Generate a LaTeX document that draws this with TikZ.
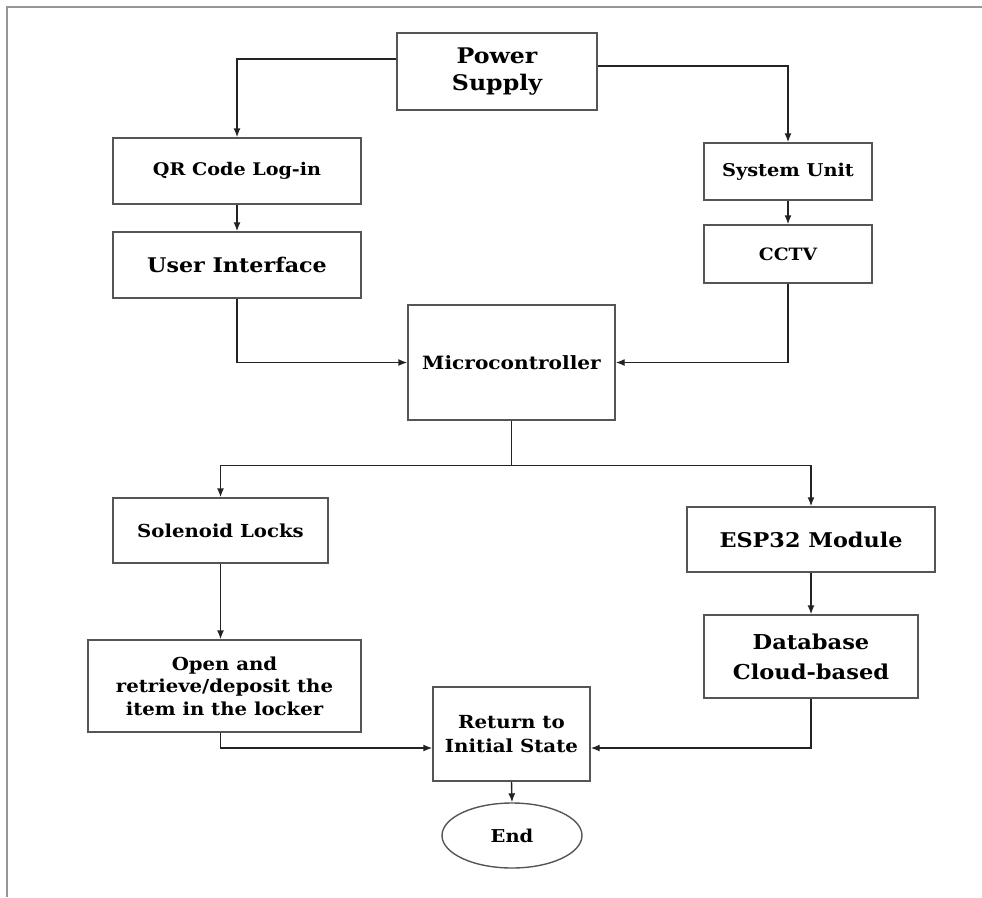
\documentclass[tikz,border=0pt]{standalone}
\usepackage{fontspec}
\setmainfont[FakeStretch=1.1]{DejaVu Serif}
\usetikzlibrary{arrows.meta,shapes.geometric,calc}
\definecolor{boxgray}{RGB}{85,85,85}
\definecolor{framegray}{RGB}{150,150,150}
\definecolor{linegray}{RGB}{35,35,35}
\newcommand\setfs[2]{\fontsize{#1}{#2}\selectfont}
\begin{document}
\begin{tikzpicture}[x=1pt,y=-1pt,
  box/.style={draw=boxgray, line width=1.4pt, align=center, inner sep=0pt},
  conn/.style={draw=linegray, line width=1.4pt, -{Latex[length=9pt,width=7pt]}},
  plain/.style={draw=linegray, line width=1.4pt}]
\useasboundingbox (0,0) rectangle (982,897);
\draw[framegray, line width=1.5pt] (982,7) -- (7,7) -- (7,897);

\node[box, minimum width=200pt, minimum height=77pt, font=\bfseries\setfs{21.5}{27}] (power) at (497,71.5) {Power\\Supply};
\node[box, minimum width=248pt, minimum height=66pt, font=\bfseries\setfs{17.4}{22}] (qr) at (237,171) {QR Code Log-in};
\node[box, minimum width=248pt, minimum height=66pt, font=\bfseries\setfs{20.2}{25}] (ui) at (237,265) {User Interface};
\node[box, minimum width=168pt, minimum height=57pt, font=\bfseries\setfs{17.6}{22}] (sys) at (788,171.5) {System Unit};
\node[box, minimum width=168pt, minimum height=58pt, font=\bfseries\setfs{17}{22}] (cctv) at (788,254) {CCTV};
\node[box, minimum width=207pt, minimum height=115pt, font=\bfseries\setfs{18.3}{22}] (micro) at (511.5,362.5) {Microcontroller};
\node[box, minimum width=215pt, minimum height=65pt, font=\bfseries\setfs{17.9}{21}] (sol) at (220.5,530.5) {Solenoid Locks};
\node[box, minimum width=248pt, minimum height=65pt, font=\bfseries\setfs{20.3}{23}] (esp) at (811,539.5) {ESP32 Module};
\node[box, minimum width=214pt, minimum height=83pt, font=\bfseries\setfs{20.5}{30}] (db) at (811,656.5) {Database\\Cloud-based};
\node[box, minimum width=273pt, minimum height=92pt, font=\bfseries\setfs{17.9}{22.5}] (open) at (224.5,686) {Open and\\retrieve/deposit the\\item in the locker};
\node[box, minimum width=157pt, minimum height=94pt, font=\bfseries\setfs{18}{24}] (ret) at (511.5,734) {Return to\\Initial State};
\node[box, ellipse, minimum width=140pt, minimum height=65pt, font=\bfseries\setfs{17.7}{22}] (end) at (512,835.5) {End};

\draw[conn] ([yshift=12.5pt]power.west) -| (qr.north);
\draw[conn] ([yshift=5.5pt]power.east) -| (sys.north);
\draw[conn] (qr.south) -- (ui.north);
\draw[conn] (sys.south) -- (cctv.north);
\draw[conn] (ui.south) |- (micro.west);
\draw[conn] (cctv.south) |- (micro.east);
\coordinate (split) at ([yshift=-45pt]micro.south);
\draw[plain] (micro.south) -- (split);
\draw[conn] (split) -| (sol.north);
\draw[conn] (split) -| (esp.north);
\draw[conn] (sol.south) -- (sol.south |- open.north);
\draw[conn] (sol.south |- open.south) |- ([yshift=-14pt]ret.west);
\draw[conn] (esp.south) -- (db.north);
\draw[conn] (db.south) |- ([yshift=-14pt]ret.east);
\draw[conn] (ret.south) -- (end.north);
\end{tikzpicture}
\end{document}
